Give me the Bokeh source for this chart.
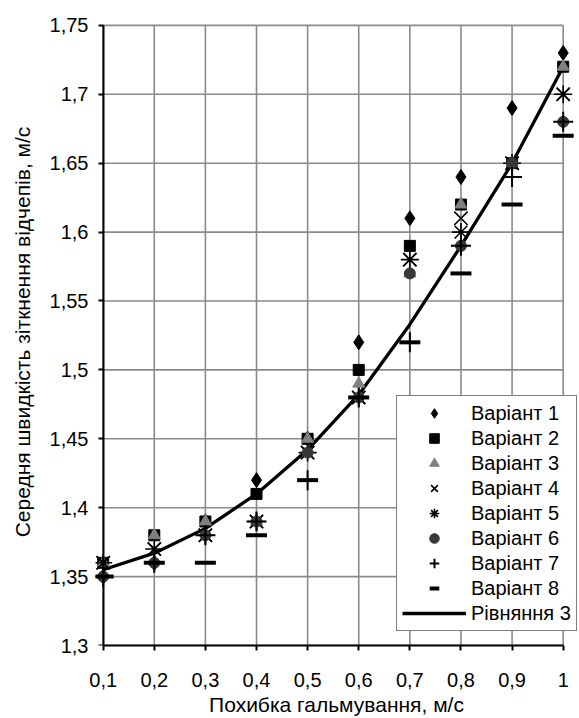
import numpy as np
from bokeh.plotting import figure
from bokeh.models import (Range1d, FixedTicker, CustomJSTickFormatter, Legend,
                          LegendItem, LinearAxis)
from bokeh.embed import file_html
from bokeh.resources import INLINE

# ---- data ----
x_vals = [0.1, 0.2, 0.3, 0.4, 0.5, 0.6, 0.7, 0.8, 0.9, 1.0]
v1 = [1.35, 1.36, 1.39, 1.42, 1.45, 1.52, 1.61, 1.64, 1.69, 1.73]
v2 = [1.36, 1.38, 1.39, 1.41, 1.45, 1.50, 1.59, 1.62, 1.65, 1.72]
v3 = [1.36, 1.38, 1.39, 1.39, 1.45, 1.49, 1.57, 1.62, 1.65, 1.72]
v4 = [1.36, 1.37, 1.38, 1.39, 1.44, 1.48, 1.58, 1.61, 1.65, 1.70]
v5 = [1.36, 1.37, 1.38, 1.39, 1.44, 1.48, 1.58, 1.60, 1.65, 1.70]
v6 = [1.35, 1.36, 1.38, 1.39, 1.44, 1.48, 1.57, 1.59, 1.65, 1.68]
v7 = [1.35, 1.36, 1.38, 1.39, 1.42, 1.48, 1.52, 1.59, 1.64, 1.68]
v8 = [1.35, 1.36, 1.36, 1.38, 1.42, 1.48, 1.52, 1.57, 1.62, 1.67]
eq3 = [1.355, 1.367, 1.385, 1.410, 1.442, 1.482, 1.533, 1.590, 1.650, 1.720]

series_labels = ["Варіант 1", "Варіант 2", "Варіант 3", "Варіант 4",
                 "Варіант 5", "Варіант 6", "Варіант 7", "Варіант 8"]
line_label = "Рівняння 3"

x_ticks = [0.1, 0.2, 0.3, 0.4, 0.5, 0.6, 0.7, 0.8, 0.9, 1.0]
y_ticks = [1.3, 1.35, 1.4, 1.45, 1.5, 1.55, 1.6, 1.65, 1.7, 1.75]

x_title = "Похибка гальмування, м/с"
y_title = "Середня швидкість зіткнення відчепів, м/с"

FONT = "Liberation Sans"
GRID = "#8a8a8a"

p = figure(width=579, height=718, output_backend="svg", toolbar_location=None,
           x_range=Range1d(0.085, 1.028), y_range=Range1d(1.3, 1.755),
           min_border_left=95, min_border_right=2, min_border_top=18,
           min_border_bottom=73)
p.outline_line_color = None
p.grid.visible = False
p.background_fill_color = "white"

# grid lines (bounded to the tick extent)
nx, ny = len(x_ticks), len(y_ticks)
p.segment(x0=x_ticks, y0=[y_ticks[0]] * nx, x1=x_ticks, y1=[y_ticks[-1]] * nx,
          line_color=GRID, line_width=1.6)
p.segment(x0=[x_ticks[0]] * ny, y0=y_ticks, x1=[x_ticks[-1]] * ny, y1=y_ticks,
          line_color=GRID, line_width=1.6)

# equation curve
r_line = p.line(x_vals, eq3, line_color="black", line_width=3.3)

r1 = p.scatter(x_vals, v1, marker="diamond", size=15,
               fill_color="black", line_color="black")
r2 = p.scatter(x_vals, v2, marker="square", size=11,
               fill_color="black", line_color="black")
r3 = p.scatter(x_vals, v3, marker="triangle", size=12,
               fill_color="#808080", line_color="#808080")
r4 = p.scatter(x_vals, v4, marker="x", size=19, line_color="black",
               line_width=1.6)
r5 = p.scatter(x_vals, v5, marker="asterisk", size=18, line_color="black",
               line_width=1.6)
r6 = p.scatter(x_vals, v6, marker="circle", size=11,
               fill_color="#383838", line_color="#383838")
r7 = p.scatter(x_vals, v7, marker="cross", size=20, line_color="black",
               line_width=2)
r8 = p.scatter(x_vals, v8, marker="dash", size=21, line_color="black",
               line_width=4)

fmt = CustomJSTickFormatter(
    code="return (Math.round(tick*100)/100).toString().replace('.', ',');")


def style(ax):
    ax.formatter = fmt
    ax.axis_line_color = "black"
    ax.axis_line_width = 2
    ax.major_tick_line_color = "black"
    ax.major_tick_line_width = 2
    ax.major_tick_out = 5
    ax.major_tick_in = 0
    ax.minor_tick_line_color = None
    ax.major_label_text_font = FONT
    ax.major_label_text_font_size = "20px"
    ax.major_label_text_color = "black"
    ax.axis_label_text_font = FONT
    ax.axis_label_text_font_size = "21px"
    ax.axis_label_text_font_style = "normal"
    ax.axis_label_text_color = "black"


# x axis
xa = p.xaxis[0]
style(xa)
xa.ticker = FixedTicker(ticks=x_ticks)
xa.bounds = (x_ticks[0], x_ticks[-1])
xa.axis_label = x_title
xa.major_label_standoff = 22
xa.axis_label_standoff = 3

# y axis: labels and title in the side panel
ya = p.yaxis[0]
style(ya)
ya.ticker = FixedTicker(ticks=y_ticks)
ya.axis_line_color = None
ya.major_tick_line_color = None
ya.major_tick_out = 0
ya.major_label_standoff = 7
ya.axis_label = y_title
ya.axis_label_standoff = 13

# y axis line and ticks sitting at x = 0.1
ya2 = LinearAxis(fixed_location=x_ticks[0])
style(ya2)
ya2.ticker = FixedTicker(ticks=y_ticks)
ya2.bounds = (y_ticks[0], y_ticks[-1])
ya2.major_label_text_color = None
ya2.major_label_text_font_size = "0px"
ya2.major_label_standoff = 0
p.add_layout(ya2, "left")

renderers = [r1, r2, r3, r4, r5, r6, r7, r8]
items = [LegendItem(label=lab, renderers=[r]) for lab, r in zip(series_labels, renderers)]
items.append(LegendItem(label=line_label, renderers=[r_line]))
legend = Legend(items=items, location=(301, 14), glyph_width=64, glyph_height=24,
                spacing=1, padding=5, label_standoff=5, margin=0,
                border_line_color="black", border_line_width=1,
                background_fill_color="white", background_fill_alpha=1.0,
                label_text_font=FONT, label_text_font_size="20px",
                label_text_color="black")
p.add_layout(legend)

open("out.html", "w").write(file_html(p, INLINE))
